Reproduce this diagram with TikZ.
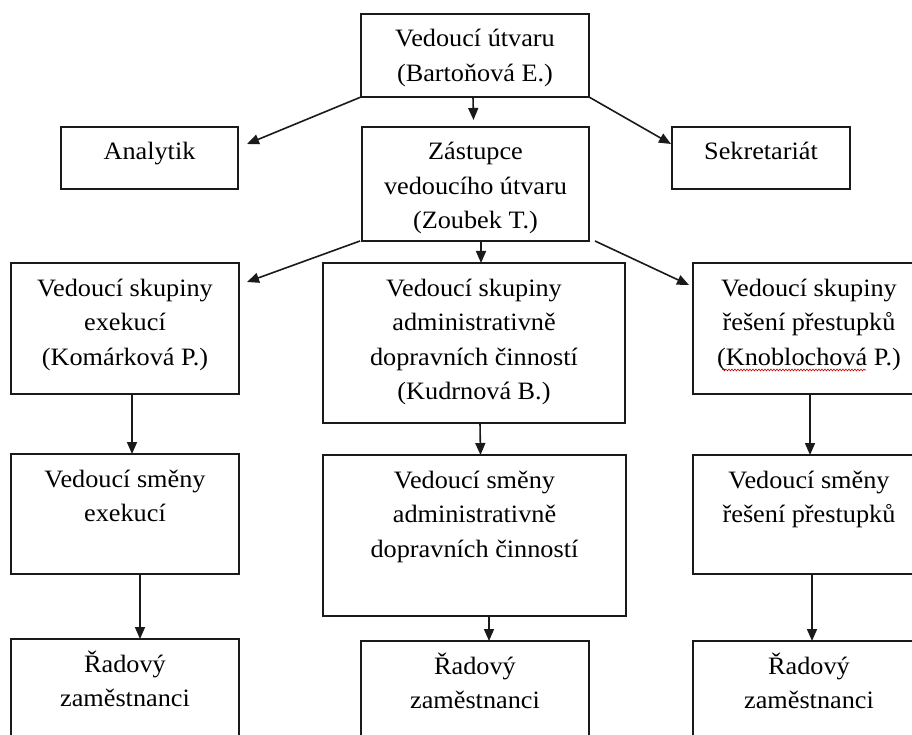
\documentclass[tikz,border=0pt]{standalone}
\usepackage{fontspec}
\setmainfont[FakeStretch=1.05]{Liberation Serif}
\usetikzlibrary{arrows.meta,decorations.pathmorphing,calc}
\definecolor{linec}{HTML}{1A1A1A}
\newcommand\bxt[3]{\parbox[c][#2][t]{#1}{\centering\rule{0pt}{33pt}#3}}
\begin{document}
\begin{tikzpicture}[x=1pt,y=-1pt,
  box/.style={draw=linec, line width=1.6pt, inner sep=0pt, outer sep=0pt, anchor=north west,
    font=\fontsize{25}{34.5}\selectfont},
  arr/.style={draw=linec, line width=1.6pt, -{Triangle[length=12pt,width=10pt]}}]
\useasboundingbox (0,0) rectangle (912,735);
\fill[white] (0,0) rectangle (912,735);
\clip (0,0) rectangle (912,735);

\node[box] (top)  at (361,14)  {\bxt{228pt}{83pt}{Vedoucí útvaru\\(Bartoňová E.)}};
\node[box] (anal) at (61,127)  {\bxt{177pt}{62pt}{Analytik}};
\node[box] (zast) at (362,127) {\bxt{227pt}{114pt}{Zástupce\\vedoucího útvaru\\(Zoubek T.)}};
\node[box] (sekr) at (672,127) {\bxt{178pt}{62pt}{Sekretariát}};

\node[box] (g1) at (11,263)  {\bxt{228pt}{131pt}{Vedoucí skupiny\\exekucí\\(Komárková P.)}};
\node[box] (g2) at (323,263) {\bxt{302pt}{160pt}{Vedoucí skupiny\\administrativně\\dopravních činností\\(Kudrnová B.)}};
\node[box] (g3) at (693,263) {\bxt{232pt}{131pt}{Vedoucí skupiny\\řešení přestupků\\(Knoblochová P.)}};

\node[box] (r1) at (11,454)  {\bxt{228pt}{120pt}{Vedoucí směny\\exekucí}};
\node[box] (r2) at (323,455) {\bxt{303pt}{161pt}{Vedoucí směny\\administrativně\\dopravních činností}};
\node[box] (r3) at (693,455) {\bxt{232pt}{119pt}{Vedoucí směny\\řešení přestupků}};

\node[box] (e1) at (11,639)  {\bxt{228pt}{130pt}{Řadový\\zaměstnanci}};
\node[box] (e2) at (361,641) {\bxt{228pt}{130pt}{Řadový\\zaměstnanci}};
\node[box] (e3) at (693,641) {\bxt{232pt}{130pt}{Řadový\\zaměstnanci}};

% spell-check underline
\draw[red!75!black, line width=0.6pt, decorate, decoration={snake, amplitude=0.9pt, segment length=3pt}]
  (722,370) -- (866,370);

% connectors
\draw[arr] (top.south west) -- ([xshift=9pt,yshift=14pt]anal.east);
\draw[arr] (top.south east) -- ([xshift=-1pt,yshift=14pt]sekr.west);
\draw[arr] ([xshift=-2pt]top.south) -- ([xshift=-2pt,yshift=7pt]zast.north);

\draw[arr] ([xshift=-2pt]zast.south west) -- ([xshift=8pt,yshift=46.5pt]g1.east);
\draw[arr] ([xshift=5.5pt]zast.south) -- ([xshift=7pt]g2.north);
\draw[arr] ([xshift=6pt]zast.south east) -- ([xshift=-4pt,yshift=43.5pt]g3.west);

\draw[arr] ([xshift=7pt]g1.south) -- ([xshift=7pt]r1.north);
\draw[arr] ([xshift=15pt]r1.south) -- ([xshift=15pt]e1.north);
\draw[arr] ([xshift=6pt]g2.south) -- ([xshift=6pt]r2.north);
\draw[arr] ([xshift=14.5pt]r2.south) -- ([xshift=14pt]e2.north);
\draw[arr] ([xshift=1pt]g3.south) -- ([xshift=1pt]r3.north);
\draw[arr] ([xshift=3pt]r3.south) -- ([xshift=3pt]e3.north);
\end{tikzpicture}
\end{document}
